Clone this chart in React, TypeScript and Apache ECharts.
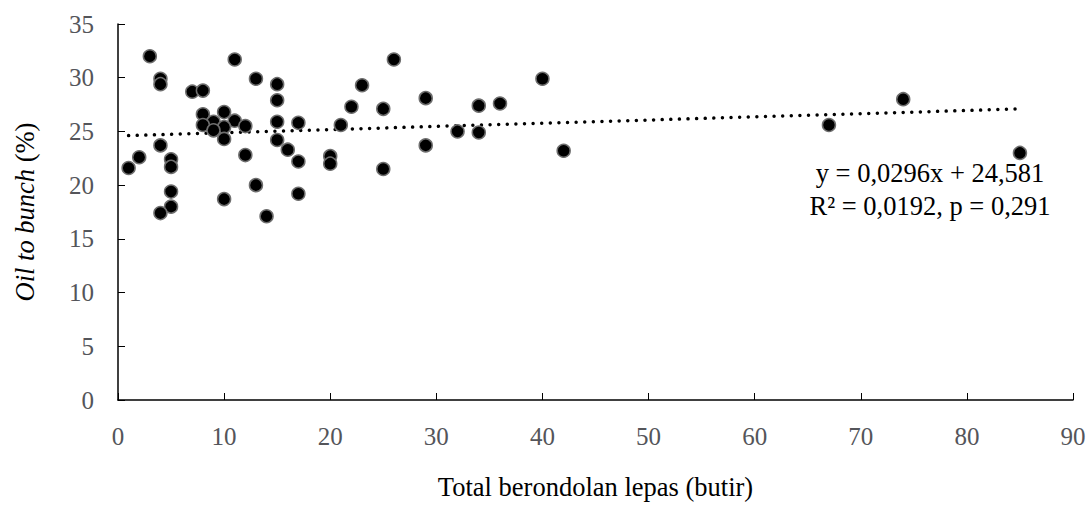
import React, { useEffect, useRef } from "react";
import * as echarts from "echarts";

const xValues: number[] = [
  3, 11, 4, 4, 13, 15, 7, 8, 15, 22,
  8, 10, 9, 8, 11, 10, 9, 12, 15, 17,
  21, 10, 15, 16, 4, 12, 17, 20, 20, 2,
  1, 5, 5, 5, 5, 4, 13, 10, 14, 17,
  26, 23, 25, 29, 34, 36, 40, 32, 34, 29,
  25, 42, 74, 67, 85,
];
const yValues: number[] = [
  32.0, 31.7, 29.9, 29.4, 29.9, 29.4, 28.7, 28.8, 27.9, 27.3,
  26.6, 26.8, 25.9, 25.6, 26.0, 25.4, 25.1, 25.5, 25.9, 25.8,
  25.6, 24.3, 24.2, 23.3, 23.7, 22.8, 22.2, 22.7, 22.0, 22.6,
  21.6, 22.4, 21.7, 19.4, 18.0, 17.4, 20.0, 18.7, 17.1, 19.2,
  31.7, 29.3, 27.1, 28.1, 27.4, 27.6, 29.9, 25.0, 24.9, 23.7,
  21.5, 23.2, 28.0, 25.6, 23.0,
];
const trendSlope = 0.0296;
const trendIntercept = 24.581;
const trendRange: number[] = [1, 85];
const equationLines: string[] = ["y = 0,0296x + 24,581", "R² = 0,0192, p = 0,291"];
const xTitle = "Total berondolan lepas (butir)";

const FONT = "Liberation Serif";

export default function App() {
  const ref = useRef<HTMLDivElement>(null);
  useEffect(() => {
    document.body.style.margin = "0";
    if (!ref.current) return;
    const chart = echarts.init(ref.current, undefined, { renderer: "svg" });
    const points = xValues.map((x, i) => [x, yValues[i]]);
    const trend = trendRange.map((x) => [x, trendSlope * x + trendIntercept]);
    chart.setOption({
      animation: false,
      textStyle: { fontFamily: FONT, color: "#000" },
      grid: { left: 118, right: 16, top: 24, bottom: 98 },
      xAxis: {
        type: "value",
        min: 0,
        max: 90,
        interval: 10,
        name: xTitle,
        nameLocation: "middle",
        nameGap: 73,
        nameTextStyle: { fontFamily: FONT, fontSize: 26.5 },
        axisLine: { onZero: false, lineStyle: { color: "#000", width: 1.5 } },
        axisTick: { show: true, inside: true, length: 7 },
        axisLabel: { fontFamily: FONT, fontSize: 25, margin: 24 },
        splitLine: { show: false },
      },
      yAxis: {
        type: "value",
        min: 0,
        max: 35,
        interval: 5,
        name: "{i|Oil to bunch} {n|(%)}",
        nameLocation: "middle",
        nameGap: 80,
        nameTextStyle: {
          fontFamily: FONT,
          fontSize: 26.5,
          rich: {
            i: { fontFamily: FONT, fontStyle: "italic" },
            n: { fontFamily: FONT },
          },
        },
        axisLine: { show: true, lineStyle: { color: "#000", width: 1.5 } },
        axisTick: { show: true, inside: true, length: 7 },
        axisLabel: { fontFamily: FONT, fontSize: 25, margin: 24 },
        splitLine: { show: false },
      },
      series: [
        {
          type: "line",
          data: trend,
          symbol: "none",
          silent: true,
          lineStyle: { color: "#000", width: 3.5, type: [0.01, 8.6], cap: "round" },
          z: 1,
        },
        {
          type: "scatter",
          data: points,
          symbol: "circle",
          symbolSize: 13,
          itemStyle: { color: "#000", borderColor: "#6e6e6e", borderWidth: 1.5, opacity: 1 },
          z: 2,
        },
      ],
      graphic: [
        {
          type: "text",
          x: 930,
          y: 156,
          style: {
            text: equationLines.join("\n"),
            fontFamily: FONT,
            fontSize: 26.5,
            lineHeight: 33,
            fill: "#000",
            align: "center",
            verticalAlign: "top",
          },
        },
      ],
    });
    return () => chart.dispose();
  }, []);
  return <div ref={ref} style={{ width: 1089, height: 505, background: "#fff" }} />;
}
